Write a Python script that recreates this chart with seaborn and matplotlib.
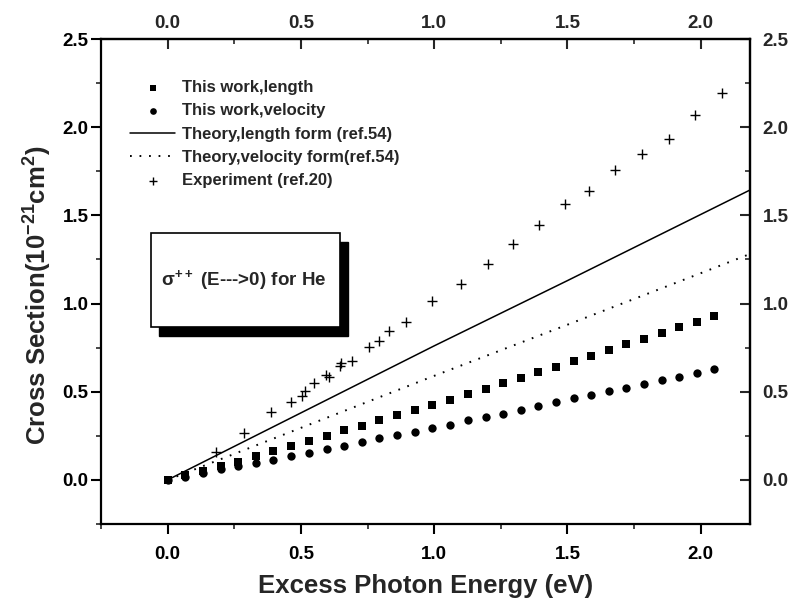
import matplotlib
matplotlib.use("Agg")
import matplotlib.pyplot as plt
import matplotlib.patches as mpatches
from matplotlib.ticker import MultipleLocator
import numpy as np
import pandas as pd
import seaborn as sns

# ---- data ----
energy_calc = [0.000, 0.066, 0.132, 0.199, 0.264, 0.330, 0.397, 0.463, 0.530, 0.597,
               0.663, 0.728, 0.794, 0.860, 0.927, 0.993, 1.059, 1.127, 1.193, 1.260,
               1.326, 1.391, 1.457, 1.523, 1.588, 1.655, 1.721, 1.787, 1.854, 1.920,
               1.985, 2.051]
sigma_length = [0.000, 0.030, 0.053, 0.078, 0.104, 0.136, 0.164, 0.194, 0.223, 0.251,
                0.281, 0.307, 0.340, 0.366, 0.396, 0.426, 0.455, 0.487, 0.517, 0.548,
                0.578, 0.611, 0.642, 0.672, 0.704, 0.736, 0.770, 0.800, 0.834, 0.866,
                0.898, 0.930]
sigma_velocity = [0.000, 0.019, 0.040, 0.062, 0.081, 0.096, 0.113, 0.134, 0.155, 0.176,
                  0.194, 0.217, 0.236, 0.255, 0.274, 0.295, 0.313, 0.338, 0.357, 0.375,
                  0.398, 0.419, 0.440, 0.463, 0.481, 0.504, 0.523, 0.544, 0.565, 0.585,
                  0.606, 0.627]
energy_theory = [0.0, 0.5, 1.0, 1.5, 2.0, 2.2]
theory_length = [0.0, 0.380, 0.760, 1.130, 1.505, 1.655]
theory_velocity = [0.0, 0.295, 0.590, 0.880, 1.172, 1.290]
energy_exp = [0.183, 0.286, 0.389, 0.464, 0.505, 0.514, 0.548, 0.595, 0.604, 0.645,
              0.652, 0.693, 0.754, 0.793, 0.830, 0.893, 0.993, 1.102, 1.202, 1.295,
              1.392, 1.492, 1.581, 1.680, 1.780, 1.880, 1.980, 2.080]
sigma_exp = [0.157, 0.264, 0.383, 0.443, 0.477, 0.506, 0.547, 0.596, 0.581, 0.647,
             0.661, 0.676, 0.751, 0.789, 0.845, 0.895, 1.015, 1.110, 1.225, 1.335,
             1.448, 1.567, 1.638, 1.760, 1.850, 1.935, 2.070, 2.195]
tick_vals_x = [0.0, 0.5, 1.0, 1.5, 2.0]
tick_vals_y = [0.0, 0.5, 1.0, 1.5, 2.0, 2.5]

labels = ["This work,length", "This work,velocity", "Theory,length form (ref.54)",
          "Theory,velocity form(ref.54)", "Experiment (ref.20)"]

df_calc = pd.DataFrame({"E": energy_calc, "L": sigma_length, "V": sigma_velocity})
df_th = pd.DataFrame({"E": energy_theory, "L": theory_length, "V": theory_velocity})
df_exp = pd.DataFrame({"E": energy_exp, "S": sigma_exp})

# ---- style ----
sns.set_style("ticks")
plt.rcParams["font.family"] = ["Liberation Sans", "DejaVu Sans"]
plt.rcParams["font.weight"] = "bold"
plt.rcParams["mathtext.fontset"] = "custom"
plt.rcParams["mathtext.rm"] = "Liberation Sans:bold"
plt.rcParams["mathtext.bf"] = "Liberation Sans:bold"
plt.rcParams["mathtext.default"] = "regular"

TICK_FS = 13.5

fig = plt.figure(figsize=(7.93, 5.99), dpi=100)
ax = fig.add_axes([101/793, 1-524/599, (750-101)/793, (524-39)/599])

sns.lineplot(data=df_th, x="E", y="L", ax=ax, color="black", lw=1.1,
             errorbar=None, label=labels[2], sort=True)
sns.lineplot(data=df_th, x="E", y="V", ax=ax, color="black", lw=1.4,
             linestyle=(0, (0.9, 4.0)), errorbar=None, label=labels[3], sort=True)
sns.scatterplot(data=df_calc, x="E", y="L", ax=ax, marker="s", s=32, color="black",
                edgecolor="black", linewidth=0, label=labels[0])
sns.scatterplot(data=df_calc, x="E", y="V", ax=ax, marker="o", s=36, color="black",
                edgecolor="black", linewidth=0, label=labels[1])
sns.scatterplot(data=df_exp, x="E", y="S", ax=ax, marker="+", s=50, color="black",
                linewidth=1.0, label=labels[4])

ax.set_xlim(-0.25, 2.185)
ax.set_ylim(-0.25, 2.5)
ax.set_xticks(tick_vals_x)
ax.set_yticks(tick_vals_y)
ax.xaxis.set_minor_locator(MultipleLocator(0.25))
ax.yaxis.set_minor_locator(MultipleLocator(0.25))
ax.set_xticklabels([f"{v:.1f}" for v in tick_vals_x])
ax.set_yticklabels([f"{v:.1f}" for v in tick_vals_y])

for sp in ax.spines.values():
    sp.set_visible(True)
    sp.set_linewidth(1.6)
    sp.set_color("black")

ax.tick_params(which="major", direction="out", length=7, width=1.5, labelsize=TICK_FS,
               colors="black")
ax.tick_params(which="minor", direction="out", length=3.5, width=1.2)
ax.tick_params(axis="x", which="major", pad=9)
ax.tick_params(axis="y", which="major", pad=2)

# top / right axes
top = ax.secondary_xaxis("top")
top.set_xticks(tick_vals_x)
top.set_xticklabels([f"{v:.1f}" for v in tick_vals_x])
top.xaxis.set_minor_locator(MultipleLocator(0.25))
top.tick_params(which="major", direction="in", length=7, width=1.5, labelsize=TICK_FS, pad=5)
top.tick_params(which="minor", direction="in", length=3.5, width=1.2)
top.spines["top"].set_linewidth(1.6)

right = ax.secondary_yaxis("right")
right.set_yticks(tick_vals_y)
right.set_yticklabels([f"{v:.1f}" for v in tick_vals_y])
right.yaxis.set_minor_locator(MultipleLocator(0.25))
right.tick_params(which="major", direction="in", length=7, width=1.5, labelsize=TICK_FS, pad=9)
right.tick_params(which="minor", direction="in", length=3.5, width=1.2)
right.spines["right"].set_linewidth(1.6)

for t in ax.get_xticklabels() + ax.get_yticklabels() + top.get_xticklabels() + right.get_yticklabels():
    t.set_fontweight("bold")

ax.set_xlabel("Excess Photon Energy (eV)", fontsize=18.5, fontweight="bold", labelpad=8)
ax.set_ylabel(r"Cross Section(10$^{-21}$cm$^{2}$)", fontsize=18.5, fontweight="bold",
              labelpad=6)
ax.yaxis.label.set_y((524-295)/485)

# legend
h, l = ax.get_legend_handles_labels()
order = [l.index(x) for x in labels]
leg = ax.legend([h[i] for i in order], [l[i] for i in order], loc="upper left",
                bbox_to_anchor=((130-101)/649, (524-80)/485), frameon=False,
                fontsize=12, handlelength=2.7, handletextpad=0.45, labelspacing=0.5,
                borderpad=0, borderaxespad=0, markerscale=0.8)
for t in leg.get_texts():
    t.set_fontweight("bold")

# inset box with shadow
x0, x1 = (151-101)/649, (340-101)/649
y0, y1 = (524-327)/485, (524-233)/485
dx, dy = 8/649, 9/485
ax.add_patch(mpatches.Rectangle((x0+dx, y0-dy), x1-x0, y1-y0, transform=ax.transAxes,
                                facecolor="black", edgecolor="black", zorder=5))
ax.add_patch(mpatches.Rectangle((x0, y0), x1-x0, y1-y0, transform=ax.transAxes,
                                facecolor="white", edgecolor="black", lw=1.2, zorder=6))
ax.text((x0+x1)/2 - 0.003, (y0+y1)/2, r"$\sigma^{\mathbf{++}}$ (E--->0) for He", transform=ax.transAxes,
        ha="center", va="center", fontsize=13.5, fontweight="bold", zorder=7)

fig.savefig("out.png", dpi=100)
